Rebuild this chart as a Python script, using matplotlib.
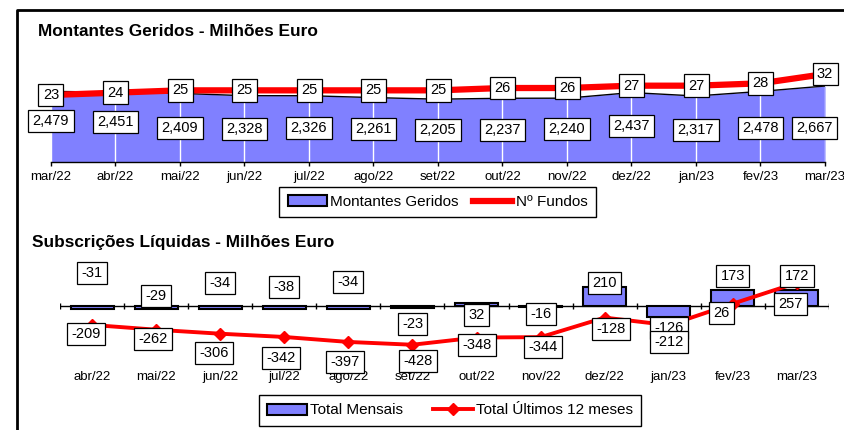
import matplotlib
matplotlib.use('Agg')
import matplotlib.pyplot as plt
from matplotlib.lines import Line2D
from matplotlib.patches import Patch
from matplotlib.transforms import blended_transform_factory
import numpy as np

plt.rcParams['font.family'] = ['Liberation Sans', 'DejaVu Sans']

# top chart data
meses_top = ['mar/22', 'abr/22', 'mai/22', 'jun/22', 'jul/22', 'ago/22', 'set/22',
             'out/22', 'nov/22', 'dez/22', 'jan/23', 'fev/23', 'mar/23']
montantes = [2479, 2451, 2409, 2328, 2326, 2261, 2205, 2237, 2240, 2437, 2317, 2478, 2667]
fundos = [23, 24, 25, 25, 25, 25, 25, 26, 26, 27, 27, 28, 32]

# bottom chart data
meses_bot = ['abr/22', 'mai/22', 'jun/22', 'jul/22', 'ago/22', 'set/22',
             'out/22', 'nov/22', 'dez/22', 'jan/23', 'fev/23', 'mar/23']
mensais = [-31, -29, -34, -38, -34, -23, 32, -16, 210, -126, 173, 172]
ultimos12 = [-209, -262, -306, -342, -397, -428, -348, -344, -128, -212, 26, 257]

# label placement (figure pixel rows, reference was hand-tuned)
montantes_lbl_y = [121, 122, 128, 129, 128, 129, 130, 130, 129, 126, 130, 128, 128]
montantes_lbl_dx = [0, 0, 0, 0, 0, 0, 0, 0, 0, 0, 0, 0, -0.16]
mensais_lbl_y = [273, 296, 283, 287, 282, 324, 315, 314, 283, 328, 276, 276]
ultimos_lbl_y = [334, 339, 353, 358, 362, 361, 345, 347, 329, 342, 313, 304]
ultimos_lbl_dx = [-0.1, -0.05, -0.1, -0.05, -0.05, 0.08, 0, 0.03, 0.1, 0, -0.18, -0.1]

W, H = 845, 430
BLUE = '#8080ff'
RED = '#ff0000'
box_style = dict(boxstyle='square,pad=0.3', facecolor='white', edgecolor='black', linewidth=0.9)


def px_box(l, t, r, b):
    return [l / W, 1 - b / H, (r - l) / W, (b - t) / H]


fig = plt.figure(figsize=(W / 100, H / 100), dpi=100)

# ---- top chart ----
ax1 = fig.add_axes(px_box(51, 60, 825, 162))
x = np.arange(len(meses_top))
ax1.fill_between(x, montantes, color=BLUE, linewidth=0, zorder=1)
ax1.plot(x, montantes, color='black', lw=1, zorder=2)
ax1.set_xlim(0, len(meses_top) - 1)
ax1.set_ylim(0, 3580)
ax1.set_xticks(x)
ax1.set_xticklabels(meses_top, fontsize=9.5)
ax1.tick_params(axis='x', direction='out', length=3, width=1, pad=3.2)
ax1.set_yticks([])
ax1.grid(axis='x', color='white', lw=1)
for s in ['top', 'left', 'right']:
    ax1.spines[s].set_visible(False)
ax1.spines['bottom'].set_linewidth(1)

ax2 = ax1.twinx()
ax2.plot(x, fundos, color=RED, lw=4.5, solid_capstyle='butt')
ax2.set_ylim(-5.7, 38)
ax2.set_yticks([])
for s in ax2.spines.values():
    s.set_visible(False)

tr_top = blended_transform_factory(ax1.transData, fig.transFigure)
for i, v in enumerate(montantes):
    ax1.text(i + montantes_lbl_dx[i], 1 - montantes_lbl_y[i] / H, f'{v:,}', transform=tr_top,
             ha='center', va='center', fontsize=10.5, bbox=box_style, zorder=5)
for i, v in enumerate(fundos):
    ax2.text(i, v, str(v), ha='center', va='center', fontsize=10.5, bbox=box_style, zorder=5)

fig.text(38 / W, 1 - 32 / H, 'Montantes Geridos - Milhões Euro', fontsize=12.4, fontweight='bold',
         va='center', ha='left')

leg1 = fig.legend(handles=[Patch(facecolor=BLUE, edgecolor='black', linewidth=1.5),
                           Line2D([], [], color=RED, lw=4.5)],
                  labels=['Montantes Geridos', 'Nº Fundos'],
                  loc='center', bbox_to_anchor=(437.5 / W, 1 - 202 / H), ncol=2, fontsize=11,
                  frameon=True, fancybox=False, edgecolor='black', framealpha=1,
                  handlelength=2.6, handletextpad=0.2, columnspacing=0.9, borderpad=0.55)
leg1.get_frame().set_linewidth(1)

# ---- bottom chart ----
ax3 = fig.add_axes(px_box(60, 252, 829, 368))
xb = np.arange(len(meses_bot))
ax3.bar(xb, mensais, width=0.67, color=BLUE, edgecolor='black', linewidth=1.5, zorder=2)
ax3.axhline(0, color='black', lw=1, zorder=1)
ax3.vlines(np.arange(-0.5, len(meses_bot)), -30, 30, color='black', lw=1, zorder=1)
ax3.plot(xb, ultimos12, color=RED, lw=2.8, marker='D', ms=6, zorder=3)
ax3.set_xlim(-0.5, len(meses_bot) - 0.5)
ax3.set_ylim(-685, 597)
ax3.set_xticks(xb)
ax3.set_xticklabels(meses_bot, fontsize=9.5)
ax3.tick_params(axis='x', length=0, pad=2)
ax3.set_yticks([])
for s in ax3.spines.values():
    s.set_visible(False)

tr_bot = blended_transform_factory(ax3.transData, fig.transFigure)
for i, v in enumerate(mensais):
    ax3.text(i, 1 - mensais_lbl_y[i] / H, str(v), transform=tr_bot, ha='center', va='center',
             fontsize=10.5, bbox=box_style, zorder=5)
for i, v in enumerate(ultimos12):
    ax3.text(i + ultimos_lbl_dx[i], 1 - ultimos_lbl_y[i] / H, str(v), transform=tr_bot,
             ha='center', va='center', fontsize=10.5, bbox=box_style, zorder=6)

fig.text(32 / W, 1 - 242 / H, 'Subscrições Líquidas - Milhões Euro', fontsize=12.4, fontweight='bold',
         va='center', ha='left')

leg2 = fig.legend(handles=[Patch(facecolor=BLUE, edgecolor='black', linewidth=1.5),
                           Line2D([], [], color=RED, lw=2.8, marker='D', ms=6)],
                  labels=['Total Mensais', 'Total Últimos 12 meses'],
                  loc='center', bbox_to_anchor=(450 / W, 1 - 410.5 / H), ncol=2, fontsize=11,
                  frameon=True, fancybox=False, edgecolor='black', framealpha=1,
                  handlelength=2.6, handletextpad=0.2, columnspacing=2.0, borderpad=0.55)
leg2.get_frame().set_linewidth(1)

# outer frame (top and left edges only visible)
fig.add_artist(Line2D([17 / W, 17 / W, 1], [0, 1 - 10 / H, 1 - 10 / H],
                      transform=fig.transFigure, color='black', lw=2))

fig.savefig('out.png', dpi=100)
